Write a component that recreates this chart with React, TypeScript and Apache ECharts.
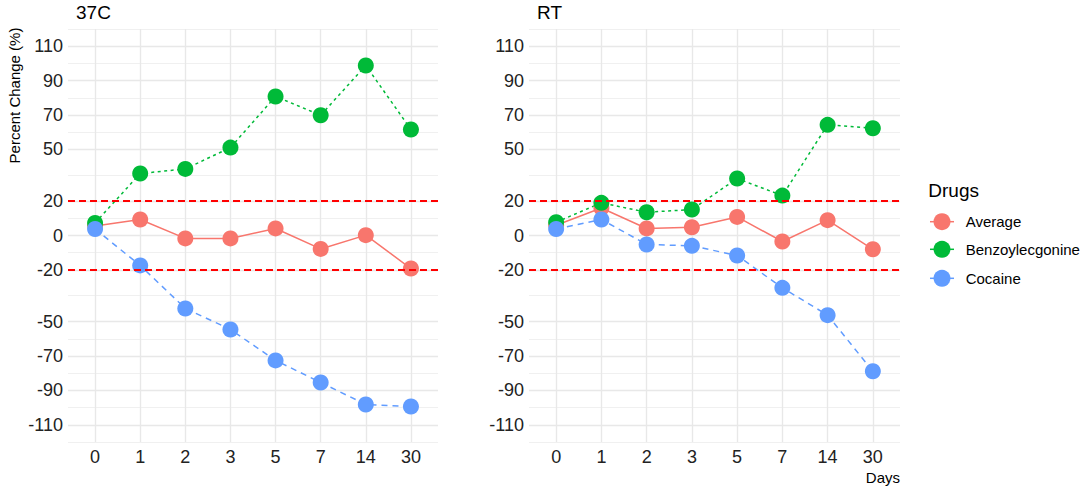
import React, { useEffect, useRef } from "react";
import * as echarts from "echarts";

const days = ["0", "1", "2", "3", "5", "7", "14", "30"];
const yTicks = [110, 90, 70, 50, 20, 0, -20, -50, -70, -90, -110];
const yMinor = [120, 100, 80, 60, 35, 10, -10, -35, -60, -80, -100, -120];
const refLines = [20, -20];
const panels = ["37C", "RT"];
const drugs = ["Average", "Benzoylecgonine", "Cocaine"];

const avg37 = [5.5, 9.3, -1.7, -1.7, 4.1, -7.8, 0.2, -19.2];
const benz37 = [7.3, 36, 38.7, 51.1, 80.8, 69.9, 98.8, 61.6];
const coc37 = [3.8, -17.4, -42.4, -54.6, -72.6, -85.4, -98.2, -99.4];

const avgRT = [6, 16, 4.1, 4.8, 10.8, -3.5, 8.9, -8];
const benzRT = [7.7, 19, 13.5, 15.1, 33.1, 23.2, 64.3, 62.3];
const cocRT = [3.8, 9.3, -5.2, -6, -11.6, -30.4, -46.3, -78.9];

const panelData = [
  [avg37, benz37, coc37],
  [avgRT, benzRT, cocRT],
];

const colors = ["#F8766D", "#00BA38", "#619CFF"];
const lineTypes: any[] = ["solid", [3, 3.5], [6, 5]];

const FONT = "'Liberation Sans', Arial, sans-serif";

export default function App() {
  const ref = useRef<HTMLDivElement>(null);

  useEffect(() => {
    if (!ref.current) return;
    const chart = echarts.init(ref.current, undefined, { renderer: "svg" });

    const grids = [
      { left: 68, top: 29, width: 370, height: 413 },
      { left: 529, top: 29, width: 371, height: 413 },
    ];

    const xAxes = panels.map((_, p) => ({
      type: "value",
      gridIndex: p,
      min: -0.6,
      max: 7.6,
      axisLine: { show: false },
      axisTick: { show: false },
      splitLine: { show: false },
      axisLabel: {
        customValues: days.map((_, i) => i),
        formatter: (v: number) => days[Math.round(v)] ?? "",
        fontSize: 18,
        lineHeight: 18,
        margin: 6,
        color: "#222",
        fontFamily: FONT,
      },
    }));

    const yAxes = panels.map((_, p) => ({
      type: "value",
      gridIndex: p,
      min: -120,
      max: 120,
      axisLine: { show: false },
      axisTick: { show: false },
      splitLine: { show: false },
      axisLabel: {
        customValues: yTicks,
        fontSize: 18,
        margin: 5,
        color: "#222",
        fontFamily: FONT,
      },
    }));

    const series: any[] = [];
    panels.forEach((_, p) => {
      series.push({
        type: "line",
        xAxisIndex: p,
        yAxisIndex: p,
        data: [],
        silent: true,
        markLine: {
          silent: true,
          z: 0,
          symbol: ["none", "none"],
          label: { show: false },
          emphasis: { disabled: true },
          data: [
            ...yMinor.map((v) => ({
              yAxis: v,
              lineStyle: { color: "#eeeeee", width: 0.9, type: "solid" },
            })),
            ...yTicks.map((v) => ({
              yAxis: v,
              lineStyle: { color: "#e8e8e8", width: 1.4, type: "solid" },
            })),
            ...days.map((_, i) => ({
              xAxis: i,
              lineStyle: { color: "#e8e8e8", width: 1.4, type: "solid" },
            })),
          ],
        },
      });
      drugs.forEach((name, d) => {
        series.push({
          type: "line",
          name,
          xAxisIndex: p,
          yAxisIndex: p,
          data: panelData[p][d].map((v, i) => [i, v]),
          showSymbol: false,
          symbol: "none",
          silent: true,
          z: 2,
          lineStyle: { color: colors[d], width: 1.5, type: lineTypes[d] },
        });
      });
      drugs.forEach((name, d) => {
        series.push({
          type: "scatter",
          name,
          xAxisIndex: p,
          yAxisIndex: p,
          data: panelData[p][d].map((v, i) => [i, v]),
          symbol: "circle",
          symbolSize: 16,
          silent: true,
          z: 3 + d * 0.1,
          itemStyle: { color: colors[d], opacity: 1 },
        });
      });
      series.push({
        type: "line",
        xAxisIndex: p,
        yAxisIndex: p,
        data: [],
        silent: true,
        markLine: {
          silent: true,
          z: 6,
          symbol: ["none", "none"],
          label: { show: false },
          emphasis: { disabled: true },
          lineStyle: { color: "#FF0000", width: 1.8, type: [7, 4] },
          data: refLines.map((v) => ({ yAxis: v })),
        },
      });
    });

    const legendRows = [221.7, 249.3, 278.3];
    const graphic: any[] = [
      {
        type: "text",
        x: 76,
        y: 12.5,
        style: { text: panels[0], fontSize: 19, fontFamily: FONT, fill: "#000", textVerticalAlign: "middle" },
      },
      {
        type: "text",
        x: 537,
        y: 12.5,
        style: { text: panels[1], fontSize: 19, fontFamily: FONT, fill: "#000", textVerticalAlign: "middle" },
      },
      {
        type: "text",
        x: 14,
        y: 95.5,
        rotation: Math.PI / 2,
        style: {
          text: "Percent Change (%)",
          fontSize: 15,
          fontFamily: FONT,
          fill: "#000",
          textAlign: "center",
          textVerticalAlign: "middle",
        },
      },
      {
        type: "text",
        x: 900,
        y: 477.3,
        style: { text: "Days", fontSize: 15, fontFamily: FONT, fill: "#000", textAlign: "right", textVerticalAlign: "middle" },
      },
      {
        type: "text",
        x: 928.3,
        y: 190,
        style: { text: "Drugs", fontSize: 19, fontFamily: FONT, fill: "#000", textVerticalAlign: "middle" },
      },
    ];
    drugs.forEach((name, d) => {
      const cy = legendRows[d];
      graphic.push({
        type: "line",
        shape: { x1: 930, y1: cy, x2: 954, y2: cy },
        style: { stroke: colors[d], lineWidth: 1.5 },
      });
      graphic.push({
        type: "circle",
        shape: { cx: 942, cy, r: 8.5 },
        style: { fill: colors[d] },
      });
      graphic.push({
        type: "text",
        x: 965.7,
        y: cy,
        style: { text: name, fontSize: 15, fontFamily: FONT, fill: "#000", textVerticalAlign: "middle" },
      });
    });

    chart.setOption({
      animation: false,
      backgroundColor: "#ffffff",
      grid: grids,
      xAxis: xAxes,
      yAxis: yAxes,
      series,
      graphic,
    });

    return () => chart.dispose();
  }, []);

  return (
    <div
      ref={ref}
      style={{ position: "fixed", left: 0, top: 0, width: 1084, height: 487, background: "#fff" }}
    />
  );
}
